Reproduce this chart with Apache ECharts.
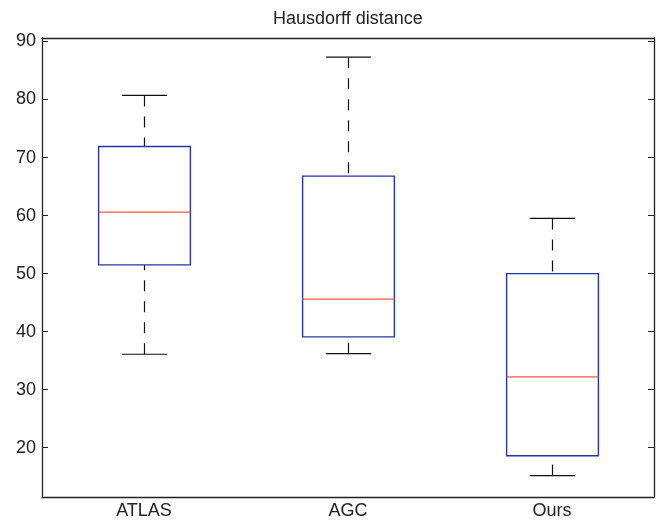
<!DOCTYPE html>
<html>
<head>
<meta charset="utf-8">
<title>Hausdorff distance</title>
<script src="https://cdn.jsdelivr.net/npm/echarts@6/dist/echarts.min.js"></script>
<style>
  html, body { margin: 0; padding: 0; background: #fff; }
  #chart { width: 661px; height: 520px; }
</style>
</head>
<body>
<div id="chart"></div>
<script>
// values
const categories = ['ATLAS', 'AGC', 'Ours']
const lowerWhisker = [36.1, 36.2, 15.2]
const q1 = [51.5, 39.1, 18.6]
const median = [60.6, 45.6, 32.2]
const q3 = [71.9, 66.8, 50.0]
const upperWhisker = [80.7, 87.3, 59.5]
const yTicks = [20, 30, 40, 50, 60, 70, 80, 90]

const font = "'Liberation Sans', Arial, Helvetica, sans-serif"
const axisColor = '#222'

const boxData = categories.map((c, i) => [i, lowerWhisker[i], q1[i], median[i], q3[i], upperWhisker[i]])

function renderBox(params, api) {
  const i = api.value(0)
  const band = api.size([1, 0])[0]
  const boxW = band * 0.45
  const capW = band * 0.22
  const pLow = api.coord([i, api.value(1)])
  const pQ1 = api.coord([i, api.value(2)])
  const pMed = api.coord([i, api.value(3)])
  const pQ3 = api.coord([i, api.value(4)])
  const pHigh = api.coord([i, api.value(5)])
  const cx = Math.round(pMed[0]) + 0.5
  const dash = { stroke: '#111', lineWidth: 1.2, lineDash: [11, 10] }
  const solid = { stroke: '#111', lineWidth: 1.2 }
  return {
    type: 'group',
    children: [
      // whiskers, dashed from the cap towards the box
      { type: 'line', shape: { x1: cx, y1: pHigh[1], x2: cx, y2: pQ3[1] }, style: dash },
      { type: 'line', shape: { x1: cx, y1: pLow[1], x2: cx, y2: pQ1[1] }, style: dash },
      { type: 'line', shape: { x1: cx - capW / 2, y1: pHigh[1], x2: cx + capW / 2, y2: pHigh[1] }, style: solid },
      { type: 'line', shape: { x1: cx - capW / 2, y1: pLow[1], x2: cx + capW / 2, y2: pLow[1] }, style: solid },
      {
        type: 'rect',
        shape: { x: cx - boxW / 2, y: pQ3[1], width: boxW, height: pQ1[1] - pQ3[1] },
        style: { fill: 'none', stroke: '#2a33a6', lineWidth: 1.4 }
      },
      {
        type: 'line',
        shape: { x1: cx - boxW / 2, y1: pMed[1], x2: cx + boxW / 2, y2: pMed[1] },
        style: { stroke: '#ef5b3d', lineWidth: 1.4 }
      }
    ]
  }
}

const chart = echarts.init(document.getElementById('chart'))
chart.setOption({
  animation: false,
  backgroundColor: '#fff',
  title: {
    text: 'Hausdorff distance',
    left: 268,
    top: 5,
    textStyle: { fontFamily: font, fontSize: 18, fontWeight: 'normal', color: axisColor }
  },
  grid: { left: 42, right: 7, top: 38, bottom: 23 },
  xAxis: [
    {
      type: 'category',
      data: categories,
      position: 'bottom',
      axisLine: { lineStyle: { color: axisColor, width: 1.3 } },
      axisTick: { inside: true, alignWithLabel: true, length: 6, lineStyle: { color: axisColor } },
      axisLabel: { fontFamily: font, fontSize: 18, color: axisColor, margin: 5 },
      splitLine: { show: false }
    },
    {
      type: 'category',
      data: categories,
      position: 'top',
      axisLine: { lineStyle: { color: axisColor, width: 1.3 } },
      axisTick: { inside: true, alignWithLabel: true, length: 6, lineStyle: { color: axisColor } },
      axisLabel: { show: false },
      splitLine: { show: false }
    }
  ],
  yAxis: [
    {
      type: 'value',
      min: 11.5,
      max: 90.6,
      position: 'left',
      axisLine: { show: true, lineStyle: { color: axisColor, width: 1.3 } },
      axisTick: { show: true, inside: true, length: 6, customValues: yTicks, lineStyle: { color: axisColor } },
      axisLabel: { fontFamily: font, fontSize: 18, color: axisColor, margin: 6, customValues: yTicks },
      splitLine: { show: false }
    },
    {
      type: 'value',
      min: 11.5,
      max: 90.6,
      position: 'right',
      axisLine: { show: true, lineStyle: { color: axisColor, width: 1.3 } },
      axisTick: { show: true, inside: true, length: 6, customValues: yTicks, lineStyle: { color: axisColor } },
      axisLabel: { show: false, customValues: yTicks },
      splitLine: { show: false }
    }
  ],
  series: [
    {
      type: 'custom',
      renderItem: renderBox,
      encode: { x: 0, y: [1, 2, 3, 4, 5] },
      data: boxData,
      clip: false
    }
  ]
})
</script>
</body>
</html>
